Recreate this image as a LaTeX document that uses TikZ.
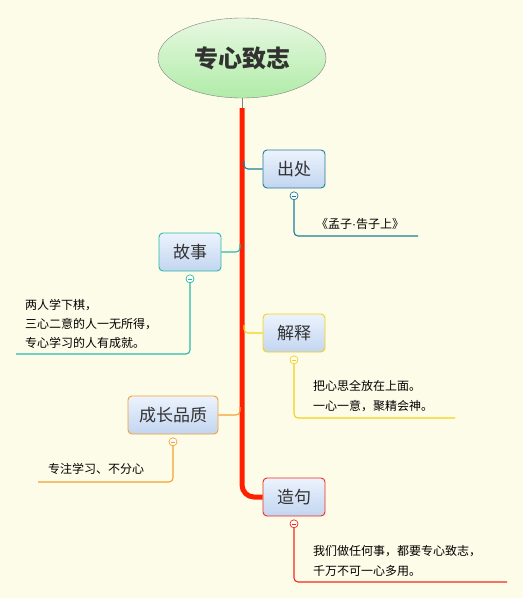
\documentclass[tikz,border=0pt]{standalone}
\usepackage{fontspec}
\newfontfamily\cjk{Noto Sans CJK SC}
\newfontfamily\latn{Liberation Sans}
\usetikzlibrary{positioning,shapes.geometric}
\definecolor{bgcol}{RGB}{253,252,232}
\definecolor{trunkred}{RGB}{255,32,0}
\definecolor{c1}{RGB}{30,125,155}
\definecolor{c2}{RGB}{40,185,170}
\definecolor{c3}{RGB}{245,210,20}
\definecolor{c4}{RGB}{245,160,50}
\definecolor{c5}{RGB}{245,40,30}
\definecolor{txt}{RGB}{50,50,50}
\definecolor{topA}{RGB}{236,243,253}
\definecolor{topB}{RGB}{194,213,240}
\definecolor{rootA}{RGB}{232,248,226}
\definecolor{rootB}{RGB}{176,236,168}
\begin{document}
\begin{tikzpicture}
			[x=1pt,y=-1pt,
			topic/.style={draw,rounded corners=4pt,line width=0.9pt,minimum height=38pt,minimum width=62pt,inner xsep=11pt,
				top color=topA,bottom color=topB,font=\cjk\fontsize{17}{19}\selectfont,text=txt},
			leaf/.style={anchor=west,align=left,inner sep=0pt,font=\cjk\fontsize{12}{20}\selectfont,text=black},
			fold/.style={circle,draw,fill=white,inner sep=0pt,minimum size=8pt,line width=0.7pt,
				path picture={\draw[line width=0.6pt] ([xshift=-2pt]path picture bounding box.center)--([xshift=2pt]path picture bounding box.center);}},
			branch/.style={line width=1.1pt,rounded corners=4pt}]
			\fill[bgcol] (0,0) rectangle (523,598);
			\useasboundingbox (0,0) rectangle (523,598);
			% root
			\node[ellipse,draw=gray,minimum width=168pt,minimum height=80pt,top color=rootA,bottom color=rootB,
				font=\cjk\bfseries\fontsize{24}{26}\selectfont,text=txt,name=root] at (242,58) {专心致志};
			\node[topic,draw=c1,name=chuchu] at (294,169) {出处};
			\node[topic,draw=c2,name=gushi] at (190,252) {故事};
			\node[topic,draw=c3,name=jieshi] at (294,333) {解释};
			\node[topic,draw=c4,name=pinzhi] at (173,415) {成长品质};
			\node[topic,draw=c5,name=zaoju] at (294,497) {造句};
			% trunk
			\coordinate (top) at (242,108);
			\draw[gray,line width=0.8pt] (root.south)--(top);
			\draw[trunkred,line width=5pt,rounded corners=12pt] (top)--(242,497)--(zaoju.west);
			% connectors
			\draw[c1,branch] (244,161)|-(chuchu.west);
			\draw[c2,branch] (240,244)|-(gushi.east);
			\draw[c3,branch] (244,325)|-(jieshi.west);
			\draw[c4,branch] (240,407)|-(pinzhi.east);
			% fold marks and leaves
			\node[fold,draw=c1,name=f1,below=3pt of chuchu] {};
			\node[fold,draw=c2,name=f2,below=3pt of gushi] {};
			\node[fold,draw=c3,name=f3,below=3pt of jieshi] {};
			\node[fold,draw=c4,name=f4,below=3pt of pinzhi] {};
			\node[fold,draw=c5,name=f5,below=3pt of zaoju] {};
			\coordinate (e1) at (418,236);
			\coordinate (e2) at (16,354);
			\coordinate (e3) at (455,418);
			\coordinate (e4) at (38,482);
			\coordinate (e5) at (507,582);
			\draw[c1,branch] (f1)|-(e1);
			\draw[c2,branch] (f2)|-(e2);
			\draw[c3,branch] (f3)|-(e3);
			\draw[c4,branch] (f4)|-(e4);
			\draw[c5,branch] (f5)|-(e5);
			\node[leaf,name=l1] at (316,224) {《孟子{\latn·}告子上》};
			\node[leaf,font=\cjk\fontsize{12}{19}\selectfont,name=l2] at (25,324) {两人学下棋，\\三心二意的人一无所得，\\专心学习的人有成就。};
			\node[leaf,name=l3] at (313,396) {把心思全放在上面。\\一心一意，聚精会神。};
			\node[leaf,name=l4] at (48,469) {专注学习、不分心};
			\node[leaf,name=l5] at (313,561) {我们做任何事，都要专心致志，\\千万不可一心多用。};
		\end{tikzpicture}
\end{document}
